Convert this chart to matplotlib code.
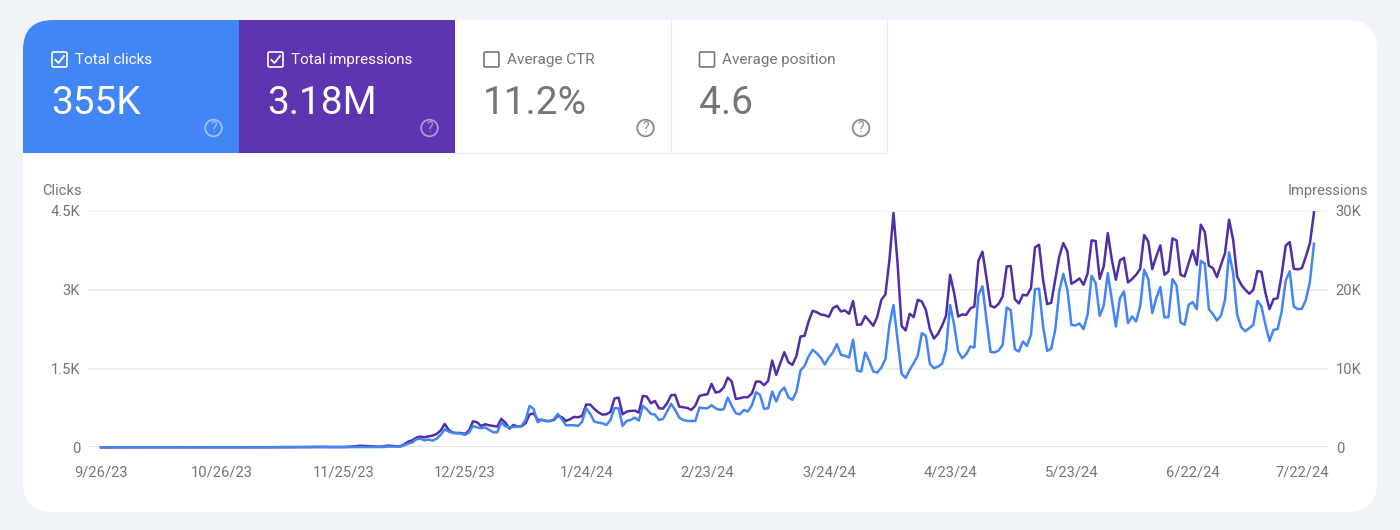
import numpy as np
import pandas as pd
import matplotlib
matplotlib.use("Agg")
import matplotlib.pyplot as plt
from matplotlib.patches import FancyBboxPatch, Rectangle, Circle
from matplotlib.transforms import ScaledTranslation

plt.rcParams['font.family'] = ['Roboto', 'DejaVu Sans']

# daily values
clicks_start = [
    0, 0, 0, 0, 0, 0, 0, 0, 0, 0, 0, 0, 0, 0, 0, 0, 0, 0, 0, 0, 0, 0, 0,
    0, 0, 0, 0, 0, 0, 0, 0, 0, 0, 0, 0, 0, 0, 0, 0, 0, 0, 0, 0, 0, 0, 1,
    1, 1, 2, 2, 2, 2, 3, 3, 3, 3, 2, 2, 2, 3, 3, 3, 3, 4, 4, 4, 4, 5, 5,
]
clicks_winter = [
    6, 6, 13, 13, 13, 13, 38, 70, 95, 153, 165, 133, 146, 127, 165, 235, 343, 299, 273,
    267, 261, 235, 280, 407, 381, 362, 381, 331, 286, 286, 477, 400, 381, 388, 388, 407,
    521, 788, 731, 477, 528, 502, 496, 534, 636, 534, 419, 419, 419, 407, 489, 744, 636,
    489, 470, 458, 426, 521, 744, 744, 407, 502, 521, 566, 508, 788, 725, 636, 623, 521,
    540, 680, 826, 712, 566, 521, 502, 502, 502, 756, 744, 744, 801, 744, 712, 725, 947,
    788, 648, 629, 712, 680, 807, 1049, 998,
]
clicks_spring = [
    731, 744, 1061, 871, 1061, 1138, 953, 903, 1061, 1462, 1551, 1729, 1856, 1792, 1710,
    1576, 1710, 1805, 1964, 1761, 1742, 1710, 2047, 1462, 1443, 1805, 1646, 1443, 1424,
    1519, 1678, 2333, 2708, 2047, 1398, 1322, 1475, 1602, 1748, 2174, 2123, 1589, 1506,
    1538, 1589, 1856, 2708, 2333, 1824, 1697, 1773, 1920, 1900, 2905, 3064, 2428, 1818,
    1805, 1843, 1951, 2663, 2612, 1869, 1824, 2015, 1932, 2142, 3013, 3019, 2301, 1837,
    1875,
]
clicks_summer = [
    2237, 2968, 3305, 3000, 2333, 2320, 2358, 2250, 2523, 3267, 3127, 2504, 2695, 3318,
    2809, 2301, 2841, 2968, 2364, 2492, 2396, 2682, 3381, 3203, 2555, 2841, 3051, 2472,
    2479, 3203, 3083, 2377, 2333, 2714, 2765, 2631, 3553, 3496, 2631, 2536, 2415, 2511,
    2809, 3712, 3318, 2523, 2288, 2212, 2269, 2333, 2790, 2682, 2333, 2028, 2237, 2250,
    2587, 3178, 3350, 2682, 2631, 2638, 2809, 3159, 3877,
]
impressions_start = [
    0, 0, 0, 0, 0, 0, 0, 0, 0, 0, 0, 0, 0, 0, 0, 0, 0, 0, 0, 0, 0, 0, 0,
    0, 0, 0, 0, 0, 0, 0, 5, 5, 5, 5, 5, 5, 5, 5, 5, 5, 10, 10, 10, 10, 20, 25,
    25, 30, 30, 30, 35, 40, 40, 60, 60, 60, 45, 40, 40, 40, 40, 60, 100, 130, 200, 170, 130, 120, 100,
]
impressions_winter = [
    85, 127, 212, 170, 127, 127, 381, 720, 890, 1229, 1356, 1271, 1398, 1483, 1695, 2119,
    2966, 2203, 1864, 1822, 1822, 1695, 2119, 3305, 3178, 2712, 2924, 2796, 2712, 2627,
    3601, 3135, 2373, 2839, 2627, 2669, 3051, 4152, 4322, 3474, 3474, 3347, 3347, 3474,
    3983, 3813, 3347, 3559, 3856, 3813, 3983, 5423, 5423, 4873, 4449, 4152, 4195, 4491,
    6186, 6313, 4195, 4534, 4618, 4661, 4407, 6525, 6440, 5593, 5889, 4957, 4915, 5593,
    6610, 6652, 5169, 5084, 5000, 4745, 5296, 6525, 6652, 6737, 8050, 6949, 7076, 7584,
    8855, 8347, 6144, 6228, 6356, 6356, 6864, 8347, 8347,
]
impressions_spring = [
    7881, 8432, 11016, 9194, 10677, 12075, 10804, 10465, 11609, 14067, 14152, 15973, 17329,
    17160, 16863, 16779, 16567, 17668, 17965, 17245, 17372, 16948, 18558, 15550, 15592,
    16651, 16058, 15423, 16609, 18728, 19405, 23812, 29744, 23388, 15423, 14830, 16948,
    16524, 18728, 18516, 17456, 14999, 13813, 14406, 15423, 16694, 21905, 19575, 16609,
    16863, 16821, 17626, 17880, 23685, 24829, 21482, 17965, 17753, 18219, 19151, 22965,
    23007, 18812, 18261, 19363, 19278, 20210, 25380, 25719, 21270, 18177, 18346,
]
impressions_summer = [
    21270, 24236, 25930, 24871, 20761, 21058, 21439, 20634, 22032, 26269, 26185, 21397,
    22965, 27202, 23812, 21270, 23727, 24066, 20931, 21354, 21905, 22626, 26947, 26143,
    22626, 24236, 25634, 21905, 22329, 26524, 26269, 21905, 21693, 23388, 24998, 23176,
    28261, 27329, 23049, 22753, 21609, 23176, 24659, 28896, 26354, 21693, 20634, 19999,
    19490, 19999, 22371, 22287, 19575, 17541, 18812, 18939, 21905, 25591, 26058, 22668,
    22583, 22753, 24236, 25930, 29828,
]

clicks = clicks_start + clicks_winter + clicks_spring + clicks_summer
impressions = impressions_start + impressions_winter + impressions_spring + impressions_summer
assert len(clicks) == 301 and len(impressions) == 301
dates = pd.date_range("2023-09-26", periods=len(clicks))

tick_dates = ["2023-09-26", "2023-10-26", "2023-11-25", "2023-12-25", "2024-01-24", "2024-02-23",
              "2024-03-24", "2024-04-23", "2024-05-23", "2024-06-22", "2024-07-22"]
tick_labels = ["9/26/23", "10/26/23", "11/25/23", "12/25/23", "1/24/24", "2/23/24",
               "3/24/24", "4/23/24", "5/23/24", "6/22/24", "7/22/24"]
clicks_ticks = [0, 1500, 3000, 4500]
clicks_tick_labels = ["0", "1.5K", "3K", "4.5K"]
imp_ticks = [0, 10000, 20000, 30000]
imp_tick_labels = ["0", "10K", "20K", "30K"]

tiles = [("Total clicks", "355K"), ("Total impressions", "3.18M"),
         ("Average CTR", "11.2%"), ("Average position", "4.6")]

BLUE = "#4285f4"
PURPLE = "#5e35b1"
LINE_PURPLE = "#512da8"
GREY = "#757575"
W, H = 1400, 530

fig = plt.figure(figsize=(W / 100, H / 100), dpi=100, facecolor="#f0f4f9")

# page layer in pixel coordinates
bg = fig.add_axes([0, 0, 1, 1])
bg.set_xlim(0, W)
bg.set_ylim(H, 0)
bg.axis("off")

card = FancyBboxPatch((23, 20), 1354, 492, boxstyle="round,pad=0,rounding_size=30",
                      fc="white", ec="none", zorder=1)
bg.add_patch(card)

tile_x = [23, 239, 455, 670.5]
tile_w = 216
tile_fill = [BLUE, PURPLE, "white", "white"]
for (name, value), x0, fill in zip(tiles, tile_x, tile_fill):
    on = fill != "white"
    fg = "white" if on else GREY
    r = Rectangle((x0, 20), tile_w, 133, fc=fill, ec="none", zorder=2)
    bg.add_patch(r)
    r.set_clip_path(card)
    if not on:
        bg.plot([x0, x0 + tile_w, x0 + tile_w], [153, 153, 20], color="#ebebeb", lw=0.8, zorder=3)
    # checkbox
    bg.add_patch(FancyBboxPatch((x0 + 29, 52), 15, 15, boxstyle="round,pad=0,rounding_size=1.5",
                                fc="none", ec=fg, lw=1.2, zorder=4))
    if on:
        bg.plot([x0 + 32.5, x0 + 35.5, x0 + 41], [60, 63, 56], color="white", lw=1.3, zorder=4)
    bg.text(x0 + 52, 60, name, color=fg, fontsize=11, va="center", ha="left", zorder=4)
    bg.text(x0 + 28, 103, value, color=fg, fontsize=28, va="center", ha="left", zorder=4)
    # help icon
    icon_col = "#ffffff" if on else GREY
    alpha = 0.5 if on else 0.85
    bg.add_patch(Circle((x0 + 190.5, 128), 8.3, fc="none", ec=icon_col, lw=1.3, alpha=alpha, zorder=4))
    bg.text(x0 + 190.5, 128.5, "?", color=icon_col, alpha=alpha, fontsize=10, ha="center", va="center", zorder=4)

# chart
left, right, top, bottom = 88, 1328, 211, 447.3
ax = fig.add_axes([left / W, 1 - bottom / H, (right - left) / W, (bottom - top) / H])
ax.patch.set_alpha(0)
day = pd.Timedelta(days=1)
ax.set_xlim(dates[0] - 13 / 4.043 * day, dates[-1] + 14 / 4.043 * day)
ax.set_ylim(0, 4500)
for s in ax.spines.values():
    s.set_visible(False)
ax.set_yticks(clicks_ticks)
ax.set_yticklabels(clicks_tick_labels)
ax.set_xticks(pd.to_datetime(tick_dates))
ax.set_xticklabels(tick_labels)
ax.tick_params(axis="both", length=0, labelsize=10.6, labelcolor=GREY)
ax.tick_params(axis="x", pad=13)
ax.tick_params(axis="y", pad=5.5)
# last date label sits inside the plot edge
last = ax.xaxis.get_ticklabels()[-1]
last.set_transform(last.get_transform() + ScaledTranslation(-12 / 100, 0, fig.dpi_scale_trans))
ax.grid(axis="y", color="#ebedef", lw=1.2)
ax.axhline(0, color="#bdbdbd", lw=1, zorder=1)
ax.set_axisbelow(True)

ax2 = ax.twinx()
ax2.patch.set_alpha(0)
ax2.set_ylim(0, 30000)
for s in ax2.spines.values():
    s.set_visible(False)
ax2.set_yticks(imp_ticks)
ax2.set_yticklabels(imp_tick_labels)
ax2.tick_params(axis="y", length=0, labelsize=10.6, labelcolor=GREY, pad=5.5)
ax2.plot(dates, impressions, color=LINE_PURPLE, lw=1.8, clip_on=False, solid_joinstyle="round")

# clicks on top of impressions
ax3 = ax.twinx()
ax3.patch.set_alpha(0)
ax3.set_ylim(0, 4500)
ax3.axis("off")
ax3.plot(dates, clicks, color=BLUE, lw=1.8, clip_on=False, solid_joinstyle="round")

bg.text(42, 191, "Clicks", color=GREY, fontsize=10.6, ha="left", va="center")
bg.text(1368, 191, "Impressions", color=GREY, fontsize=10.6, ha="right", va="center")

fig.savefig("out.png", dpi=100, facecolor=fig.get_facecolor())
